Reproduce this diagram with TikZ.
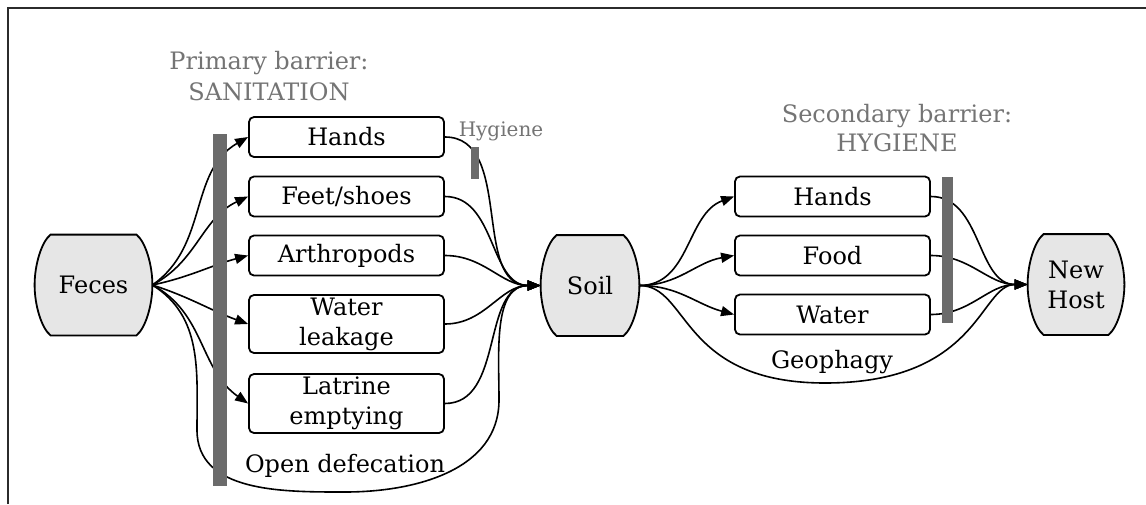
\documentclass[tikz,border=0pt]{standalone}
\usepackage{fontspec}
\setmainfont{DejaVu Serif}
\usepackage{tikz}
\usetikzlibrary{arrows.meta,backgrounds}
\definecolor{hubgray}{HTML}{E6E6E6}
\definecolor{bargray}{HTML}{6B6B6B}
\definecolor{labgray}{HTML}{747474}
\definecolor{framegray}{HTML}{2B2B2B}
\tikzset{
  hub/.style={rectangle,minimum height=50pt,align=center,inner sep=1pt},
  route/.style={draw,rounded corners=2.5pt,line width=0.9pt,minimum width=97.5pt,minimum height=20pt,inner ysep=0.5pt,align=center},
  barlabel/.style={text=labgray,align=center},
  flow/.style={->,line width=0.8pt},
}
\begin{document}
\begin{tikzpicture}[x=0.5pt,y=-0.5pt,>={Triangle[length=6.5pt,width=5pt]},
  every node/.style={font=\fontsize{12}{15}\selectfont}]
\useasboundingbox (0,0) rectangle (1146,504);
\draw[framegray,line width=1pt] (7.5,504) -- (7.5,7.5) -- (1146,7.5);

\node[hub,minimum width=58.5pt] (feces) at (93.5,285) {Feces};
\node[hub,minimum width=49pt] (soil) at (590,285.5) {Soil};
\node[hub,minimum width=48pt] (host) at (1076,284.5) {New\\Host};

\begin{scope}[on background layer]
\foreach \n in {feces,soil,host}
  \draw[line width=0.9pt,fill=hubgray] ([xshift=8pt]\n.north west) -- ([xshift=-8pt]\n.north east)
    .. controls ([xshift=-3.5pt,yshift=-3.5pt]\n.north east) and ([yshift=-15pt]\n.north east) .. (\n.east)
    .. controls ([yshift=15pt]\n.south east) and ([xshift=-3.5pt,yshift=3.5pt]\n.south east) .. ([xshift=-8pt]\n.south east)
    -- ([xshift=8pt]\n.south west)
    .. controls ([xshift=3.5pt,yshift=3.5pt]\n.south west) and ([yshift=15pt]\n.south west) .. (\n.west)
    .. controls ([yshift=-15pt]\n.north west) and ([xshift=3.5pt,yshift=-3.5pt]\n.north west) .. cycle;
\end{scope}

\node[route] (lhands) at (346.5,137) {Hands};
\node[route] (feet) at (346.5,196.5) {Feet/shoes};
\node[route] (arthro) at (346.5,255.5) {Arthropods};
\node[route,minimum height=29pt] (leak) at (346.5,324) {Water\\leakage};
\node[route,minimum height=29.5pt] (latrine) at (346.5,403.5) {Latrine\\emptying};

\node[route] (rhands) at (832.5,196.5) {Hands};
\node[route] (food) at (832.5,255.5) {Food};
\node[route] (water) at (832.5,314.5) {Water};

\coordinate (odl) at (197,430);
\coordinate (od) at (345,492);
\coordinate (odr) at (499,400);
\coordinate (geo) at (825,383);

\draw[flow] (feces.east) to[out=35,in=210] (lhands.west);
\draw[flow] (feces.east) to[out=28,in=205] (feet.west);
\draw[flow] (feces.east) to[out=12,in=195] (arthro.west);
\draw[flow] (feces.east) to[out=-18,in=160] (leak.west);
\draw[flow] (feces.east) to[out=-28,in=145] (latrine.west);
\draw[flow] (feces.east) to[out=-32,in=90] (odl) to[out=-90,in=180] (od)
  to[out=0,in=-90] (odr) to[out=90,in=180] (soil.west);

\foreach \n in {lhands,feet,arthro,leak,latrine}
  \draw[flow] (\n.east) to[out=0,in=180] (soil.west);

\draw[flow] (soil.east) to[out=0,in=200] (rhands.west);
\draw[flow] (soil.east) to[out=0,in=190] (food.west);
\draw[flow] (soil.east) to[out=0,in=165] (water.west);
\draw[flow] (soil.east) .. controls +(50,0) and +(-145,0) .. (geo)
  .. controls +(155,0) and +(-48,0) .. (host.west);

\foreach \n in {rhands,food,water}
  \draw[flow] (\n.east) to[out=0,in=180] (host.west);

% barriers
\fill[bargray] (213,134) rectangle (227,486);
\fill[bargray] (471,147) rectangle (479,179);
\fill[bargray] (942,177) rectangle (953,323);

\node[barlabel,font=\fontsize{12}{15.5}\selectfont] (prim) at (269,76) {Primary barrier:\\SANITATION};
\node[barlabel,font=\fontsize{12}{14.5}\selectfont] (sec) at (897,128) {Secondary barrier:\\HYGIENE};
\node[barlabel,font=\fontsize{10}{12}\selectfont] (hyg) at (501,131) {Hygiene};
\node (opendef) at (345,466) {Open defecation};
\node (geoph) at (832,362) {Geophagy};
\end{tikzpicture}
\end{document}
